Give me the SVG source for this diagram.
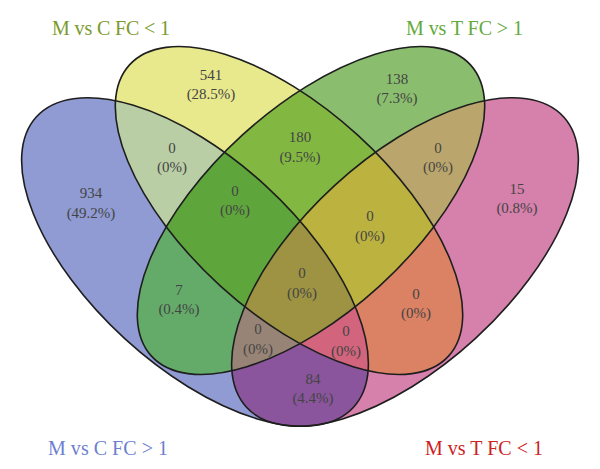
<svg xmlns="http://www.w3.org/2000/svg" width="600" height="469" viewBox="0 0 600 469">
<defs>
<style>
.lbl{font-family:"Liberation Serif","DejaVu Serif",serif;font-size:15px;fill:#444444;text-anchor:middle}
.title{font-family:"Liberation Serif","DejaVu Serif",serif;font-size:20px}
.outline{fill:none;stroke:#1e1e1e;stroke-width:1.6}
</style>
<ellipse id="eA" cx="0" cy="0" rx="215" ry="104" transform="translate(195 262) rotate(42.5)"/>
<ellipse id="eB" cx="0" cy="0" rx="216" ry="102" transform="translate(289 210.5) rotate(42.4)"/>
<ellipse id="eC" cx="0" cy="0" rx="216" ry="102" transform="translate(311 210.5) rotate(-42.4)"/>
<ellipse id="eD" cx="0" cy="0" rx="215" ry="104" transform="translate(405 262) rotate(-42.5)"/>
<clipPath id="cA"><ellipse cx="0" cy="0" rx="215" ry="104" transform="translate(195 262) rotate(42.5)"/></clipPath>
<clipPath id="cB"><ellipse cx="0" cy="0" rx="216" ry="102" transform="translate(289 210.5) rotate(42.4)"/></clipPath>
<clipPath id="cC"><ellipse cx="0" cy="0" rx="216" ry="102" transform="translate(311 210.5) rotate(-42.4)"/></clipPath>
<clipPath id="cD"><ellipse cx="0" cy="0" rx="215" ry="104" transform="translate(405 262) rotate(-42.5)"/></clipPath>
</defs>
<rect width="600" height="469" fill="#ffffff"/>
<g id="regions">
<use href="#eA" fill="#8f9bd2"/>
<use href="#eB" fill="#e8e88c"/>
<use href="#eC" fill="#8abe6e"/>
<use href="#eD" fill="#d680ac"/>
<g clip-path="url(#cA)"><use href="#eB" fill="#bacea6"/></g>
<g clip-path="url(#cA)"><use href="#eC" fill="#64ab6a"/></g>
<g clip-path="url(#cA)"><use href="#eD" fill="#8a559c"/></g>
<g clip-path="url(#cB)"><use href="#eC" fill="#82b842"/></g>
<g clip-path="url(#cB)"><use href="#eD" fill="#dc8264"/></g>
<g clip-path="url(#cC)"><use href="#eD" fill="#baa66c"/></g>
<g clip-path="url(#cA)"><g clip-path="url(#cB)"><use href="#eC" fill="#5ea63c"/></g></g>
<g clip-path="url(#cA)"><g clip-path="url(#cB)"><use href="#eD" fill="#d2647d"/></g></g>
<g clip-path="url(#cA)"><g clip-path="url(#cC)"><use href="#eD" fill="#988476"/></g></g>
<g clip-path="url(#cB)"><g clip-path="url(#cC)"><use href="#eD" fill="#bbb23f"/></g></g>
<g clip-path="url(#cA)"><g clip-path="url(#cB)"><g clip-path="url(#cC)"><use href="#eD" fill="#9d9342"/></g></g></g>
</g>
<g id="set-mvsc-gt1"><use href="#eA" class="outline"/></g>
<g id="set-mvsc-lt1"><use href="#eB" class="outline"/></g>
<g id="set-mvst-gt1"><use href="#eC" class="outline"/></g>
<g id="set-mvst-lt1"><use href="#eD" class="outline"/></g>
<g id="labels">
<text class="lbl" x="91" y="198">934</text><text class="lbl" x="91" y="218">(49.2%)</text>
<text class="lbl" x="211" y="80">541</text><text class="lbl" x="211" y="99">(28.5%)</text>
<text class="lbl" x="397" y="84">138</text><text class="lbl" x="397" y="103">(7.3%)</text>
<text class="lbl" x="517" y="194">15</text><text class="lbl" x="517" y="213">(0.8%)</text>
<text class="lbl" x="172" y="153">0</text><text class="lbl" x="172" y="172">(0%)</text>
<text class="lbl" x="300" y="142">180</text><text class="lbl" x="300" y="162">(9.5%)</text>
<text class="lbl" x="438" y="153">0</text><text class="lbl" x="438" y="172">(0%)</text>
<text class="lbl" x="235" y="196">0</text><text class="lbl" x="235" y="215">(0%)</text>
<text class="lbl" x="370" y="221">0</text><text class="lbl" x="370" y="241">(0%)</text>
<text class="lbl" x="179" y="295">7</text><text class="lbl" x="179" y="314">(0.4%)</text>
<text class="lbl" x="302" y="278">0</text><text class="lbl" x="302" y="298">(0%)</text>
<text class="lbl" x="416" y="299">0</text><text class="lbl" x="416" y="318">(0%)</text>
<text class="lbl" x="258" y="334">0</text><text class="lbl" x="258" y="354">(0%)</text>
<text class="lbl" x="346" y="336">0</text><text class="lbl" x="346" y="356">(0%)</text>
<text class="lbl" x="313" y="384">84</text><text class="lbl" x="313" y="403">(4.4%)</text>
</g>
<g id="titles">
<text class="title" x="52" y="35" fill="#7b9a2e" textLength="118">M vs C FC &lt; 1</text>
<text class="title" x="406" y="35" fill="#62aa3c" textLength="117">M vs T FC &gt; 1</text>
<text class="title" x="48" y="455" fill="#6e7fd0" textLength="120">M vs C FC &gt; 1</text>
<text class="title" x="425" y="455" fill="#cc2222" textLength="118">M vs T FC &lt; 1</text>
</g>
</svg>
